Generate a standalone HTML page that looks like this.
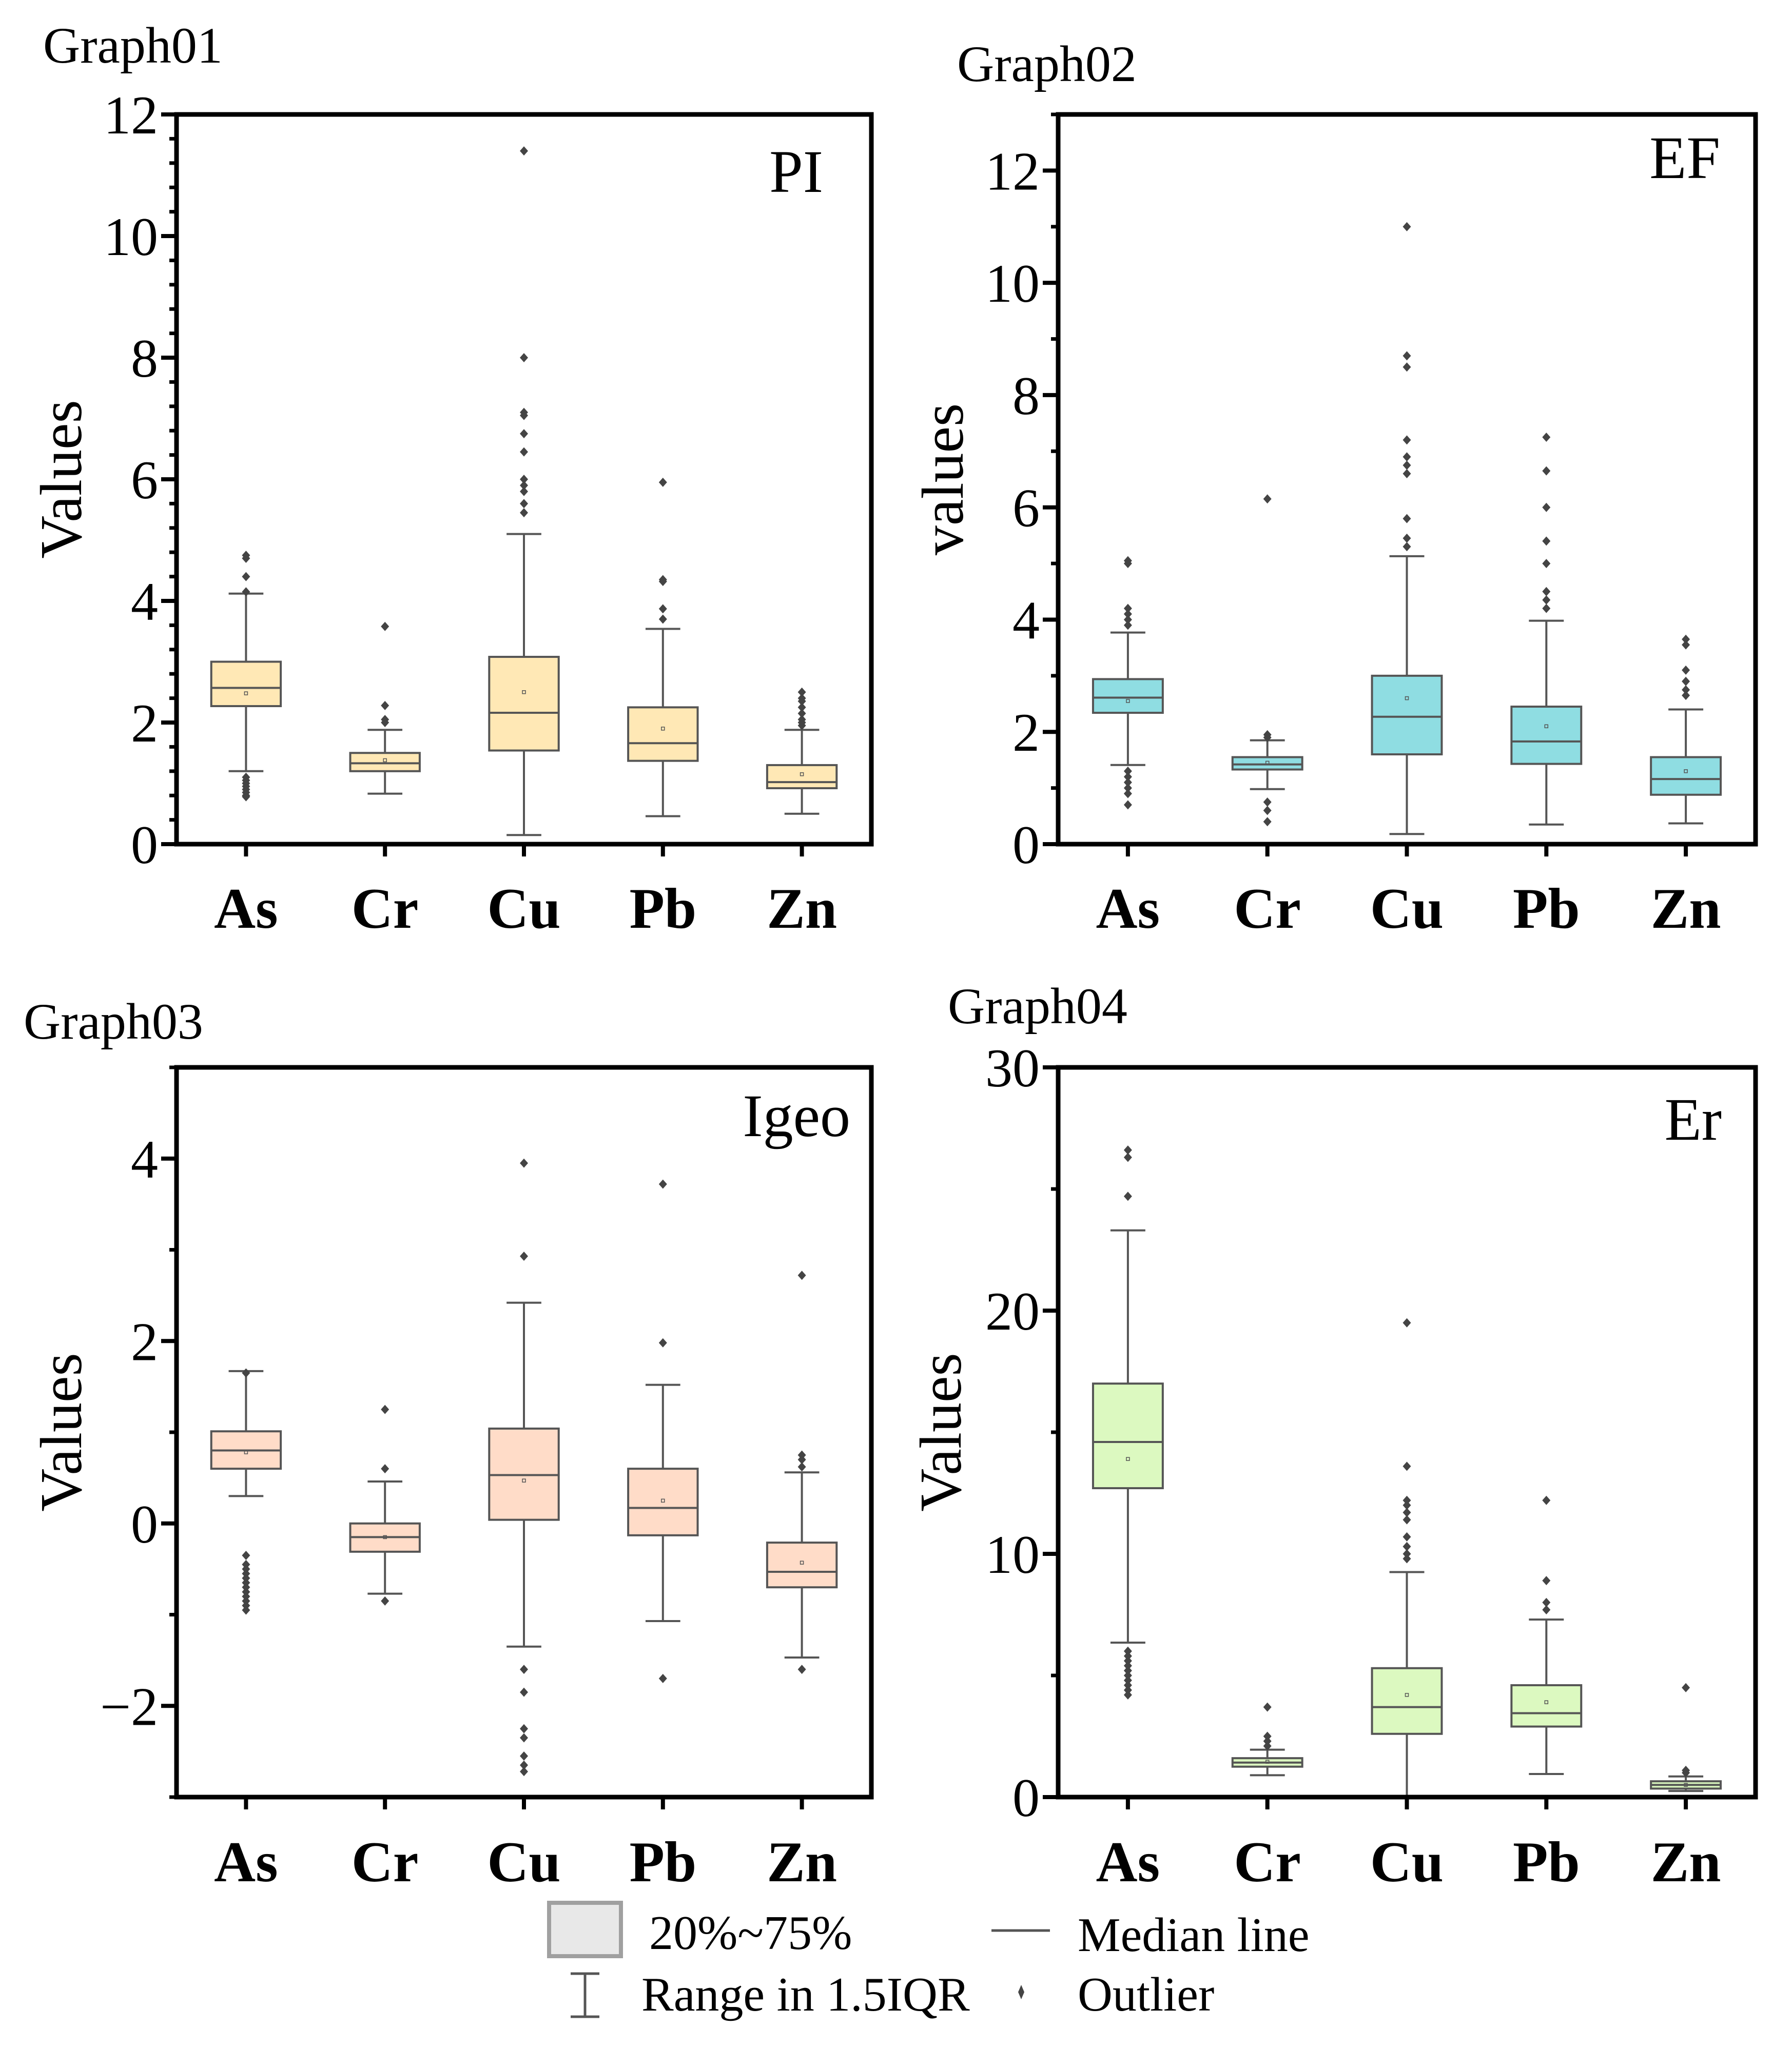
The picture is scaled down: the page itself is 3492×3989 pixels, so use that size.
<!DOCTYPE html>
<html><head><meta charset="utf-8"><style>
html,body{margin:0;padding:0;background:#fff;}
svg{display:block;font-family:"Liberation Serif",serif;}
</style></head><body>
<svg id="chart" width="3492" height="3989" viewBox="0 0 3492 3989" xmlns="http://www.w3.org/2000/svg">
<g id="root"></g>
<g>
  <rect x="1070" y="3708" width="140" height="104" fill="#e8e8e8" stroke="#a0a0a0" stroke-width="8"/>
  <text x="1265" y="3798" font-size="94">20%~75%</text>
  <line x1="1932" y1="3762" x2="2046" y2="3762" stroke="#555" stroke-width="5"/>
  <text x="2100" y="3802" font-size="94">Median line</text>
  <g stroke="#555" stroke-width="5">
    <line x1="1140" y1="3846" x2="1140" y2="3930"/><line x1="1112" y1="3846" x2="1168" y2="3846"/><line x1="1112" y1="3930" x2="1168" y2="3930"/>
  </g>
  <text x="1250" y="3918" font-size="94">Range in 1.5IQR</text>
  <path d="M1990 3868 L1996 3882 L1990 3896 L1984 3882 Z" fill="#444"/>
  <text x="2100" y="3918" font-size="94">Outlier</text>
</g>
</svg>
<script>
const categories = ["As","Cr","Cu","Pb","Zn"];
// PI
const piLow=[1.2,0.83,0.15,0.46,0.5], piQ1=[2.27,1.2,1.54,1.37,0.92], piMed=[2.57,1.33,2.16,1.66,1.02], piQ3=[3.0,1.5,3.08,2.25,1.3], piHigh=[4.12,1.88,5.1,3.54,1.88], piMean=[2.48,1.38,2.5,1.9,1.15];
const piOut=[[4.15,4.4,4.7,4.75,1.1,1.05,1.0,0.95,0.9,0.85,0.8,0.78],[2.0,2.05,2.28,3.58],[5.45,5.6,5.8,5.9,6.0,6.45,6.75,7.05,7.1,8.0,11.4],[3.7,3.87,4.32,4.35,5.95],[1.95,2.0,2.05,2.15,2.25,2.35,2.4,2.5]];
// EF
const efLow=[1.41,0.98,0.18,0.35,0.37], efQ1=[2.34,1.33,1.6,1.43,0.88], efMed=[2.61,1.42,2.27,1.83,1.16], efQ3=[2.94,1.55,3.0,2.45,1.55], efHigh=[3.77,1.85,5.13,3.98,2.4], efMean=[2.55,1.45,2.6,2.1,1.3];
const efOut=[[3.9,4.0,4.1,4.2,5.0,5.05,1.3,1.2,1.1,1.0,0.9,0.7],[1.9,1.95,0.75,0.6,0.4,6.15],[5.3,5.45,5.8,6.6,6.75,6.9,7.2,8.5,8.7,11.0],[4.2,4.35,4.5,5.0,5.4,6.0,6.65,7.25],[2.65,2.75,2.9,3.1,3.55,3.65]];
// Igeo
const igLow=[0.3,-0.77,-1.35,-1.07,-1.47], igQ1=[0.6,-0.31,0.04,-0.13,-0.7], igMed=[0.8,-0.15,0.53,0.17,-0.53], igQ3=[1.01,0.0,1.04,0.6,-0.21], igHigh=[1.67,0.46,2.42,1.52,0.56], igMean=[0.78,-0.15,0.47,0.25,-0.43];
const igOut=[[1.65,-0.35,-0.45,-0.5,-0.55,-0.6,-0.65,-0.7,-0.75,-0.8,-0.85,-0.9,-0.95],[0.6,1.25,-0.85],[2.93,3.95,-1.6,-1.85,-2.25,-2.35,-2.55,-2.65,-2.72],[1.98,3.72,-1.7],[0.62,0.7,0.75,2.72,-1.6]];
// Er
const erLow=[6.35,0.9,0,0.95,0.25], erQ1=[12.7,1.25,2.6,2.9,0.35], erMed=[14.6,1.42,3.7,3.45,0.5], erQ3=[17.0,1.6,5.3,4.6,0.65], erHigh=[23.3,1.95,9.25,7.3,0.85], erMean=[13.9,1.45,4.2,3.9,0.5];
const erOut=[[24.7,26.3,26.6,6.0,5.8,5.6,5.4,5.2,5.0,4.8,4.6,4.4,4.2],[2.1,2.3,2.5,3.7],[9.8,10.0,10.3,10.7,11.4,11.7,12.0,12.2,13.6,19.5],[7.7,8.0,8.9,12.2],[1.0,1.1,4.5]];
const piTicks=[0,2,4,6,8,10,12], efTicks=[0,2,4,6,8,10,12], igTicks=[-2,0,2,4], erTicks=[0,10,20,30];

const NS="http://www.w3.org/2000/svg";
const root=document.getElementById('root');
function mk(tag,attrs,parent,txt){const e=document.createElementNS(NS,tag);for(const k in attrs)e.setAttribute(k,attrs[k]);if(txt!==undefined)e.textContent=txt;parent.appendChild(e);return e;}

const panels=[
 {key:"pi",L:344,R:1698,T:223,B:1645,min:0,max:12,ticks:piTicks,minor:0.4,fill:"#ffe8b5",d:[piLow,piQ1,piMed,piQ3,piHigh,piMean,piOut],title:"Graph01",tx:84,ty:122,label:"PI",lx:1604,ly:374,yt:"Values",ytx:158,catY:1808},
 {key:"ef",L:2062,R:3421,T:223,B:1645,min:0,max:13,ticks:efTicks,minor:1,fill:"#8fdde2",d:[efLow,efQ1,efMed,efQ3,efHigh,efMean,efOut],title:"Graph02",tx:1865,ty:158,label:"EF",lx:3352,ly:347,yt:"values",ytx:1876,catY:1808},
 {key:"igeo",L:344,R:1698,T:2080,B:3502,min:-3,max:5,ticks:igTicks,minor:1,fill:"#ffdcc8",d:[igLow,igQ1,igMed,igQ3,igHigh,igMean,igOut],title:"Graph03",tx:46,ty:2024,label:"Igeo",lx:1657,ly:2214,yt:"Values",ytx:158,catY:3666},
 {key:"er",L:2062,R:3421,T:2080,B:3502,min:0,max:30,ticks:erTicks,minor:5,fill:"#dcf9c0",d:[erLow,erQ1,erMed,erQ3,erHigh,erMean,erOut],title:"Graph04",tx:1847,ty:1994,label:"Er",lx:3355,ly:2221,yt:"Values",ytx:1872,catY:3666}
];

panels.forEach(p=>{
  const g=mk('g',{},root);
  
  
  const y=v=>p.B-(v-p.min)/(p.max-p.min)*(p.B-p.T);
  const cw=(p.R-p.L)/categories.length;
  const x=i=>p.L+cw*(i+0.5);
  const t=mk('text',{x:p.tx,y:p.ty,'font-size':100},g,p.title);
  
  
  const lb=mk('text',{x:p.lx,y:p.ly,'font-size':118,'text-anchor':'end'},g,p.label);
  
  
  const yc=(p.T+p.B)/2;
  const yt=mk('text',{x:p.ytx,y:yc,'font-size':116,'text-anchor':'middle',transform:`rotate(-90 ${p.ytx} ${yc})`},g,p.yt);
  
  
  for(let v=p.min;v<=p.max+1e-9;v+=p.minor){
    const mt=mk('line',{x1:p.L-14,x2:p.L,y1:y(v),y2:y(v),stroke:'#000','stroke-width':7},g);
    
    
  }
  p.ticks.forEach(v=>{
    const tk=mk('line',{x1:p.L-30,x2:p.L,y1:y(v),y2:y(v),stroke:'#000','stroke-width':8},g);
    
    
    const tl=mk('text',{x:p.L-36,y:y(v)+37,'font-size':106,'text-anchor':'end'},g,v<0?'\u2212'+Math.abs(v):String(v));
    
    
  });
  const [lo,q1,md,q3,hi,mn,out]=p.d;
  const bw=cw*0.5;
  categories.forEach((c,i)=>{
    const cx=x(i);
    const xt=mk('line',{x1:cx,x2:cx,y1:p.B,y2:p.B+24,stroke:'#000','stroke-width':8},g);
    
    
    const cl=mk('text',{x:cx,y:p.catY,'font-size':112,'font-weight':'bold','text-anchor':'middle'},g,c);
    
    
    const bg=mk('g',{stroke:'#555','stroke-width':4},g);
    
    
    mk('line',{x1:cx,x2:cx,y1:y(hi[i]),y2:y(q3[i])},bg);
    mk('line',{x1:cx,x2:cx,y1:y(q1[i]),y2:y(lo[i])},bg);
    mk('line',{x1:cx-bw/4,x2:cx+bw/4,y1:y(hi[i]),y2:y(hi[i])},bg);
    mk('line',{x1:cx-bw/4,x2:cx+bw/4,y1:y(lo[i]),y2:y(lo[i])},bg);
    mk('rect',{x:cx-bw/2,y:y(q3[i]),width:bw,height:Math.max(1,y(q1[i])-y(q3[i])),fill:p.fill},bg);
    mk('line',{x1:cx-bw/2,x2:cx+bw/2,y1:y(md[i]),y2:y(md[i])},bg);
    mk('rect',{x:cx-3,y:y(mn[i])-3,width:6,height:6,fill:'none','stroke-width':1.5},bg);
    out[i].forEach(v=>{
      const o=mk('path',{d:`M${cx} ${y(v)-9} L${cx+8} ${y(v)} L${cx} ${y(v)+9} L${cx-8} ${y(v)} Z`,fill:'#444',stroke:'none'},bg);
      
      
    });
  });
  const fr=mk('rect',{x:p.L,y:p.T,width:p.R-p.L,height:p.B-p.T,fill:'none',stroke:'#000','stroke-width':9},g);
  
  
});
</script>
</body></html>
